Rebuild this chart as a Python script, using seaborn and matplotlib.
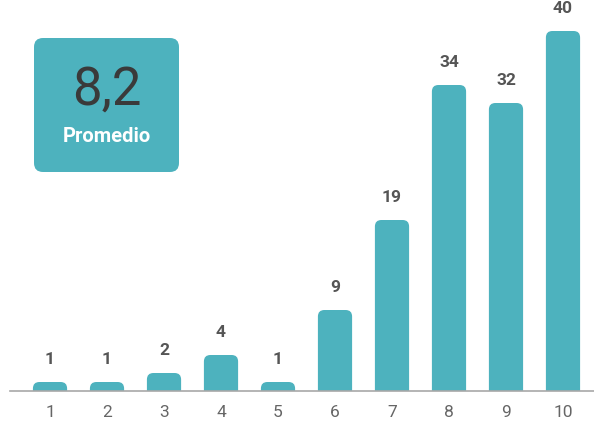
import matplotlib
matplotlib.use("Agg")
import matplotlib.pyplot as plt
from matplotlib.patches import FancyBboxPatch
import pandas as pd
import seaborn as sns

# Score distribution
scores = ["1", "2", "3", "4", "5", "6", "7", "8", "9", "10"]
counts = [1, 1, 2, 4, 1, 9, 19, 34, 32, 40]
average_label = "8,2"
average_caption = "Promedio"

TEAL = "#4db2be"
LABEL_GRAY = "#555555"
TICK_GRAY = "#666666"

sns.set_theme(style="white")
plt.rcParams["font.family"] = ["Roboto", "DejaVu Sans"]

df = pd.DataFrame({"score": scores, "count": counts})

fig = plt.figure(figsize=(5.94, 4.24), dpi=100)
ax = fig.add_axes([10 / 594, 33 / 424, 584 / 594, 391 / 424])

sns.barplot(data=df, x="score", y="count", color=TEAL, width=0.6,
            saturation=1, ax=ax)

ax.set_xlim(-0.702, 9.544)
ax.set_ylim(0, 391 / 9)

# Replace the square bars with rounded-top versions
px_per_x = 57.0
px_per_y = 9.0
radius_px = 6.5
rx = radius_px / px_per_x
ry = radius_px / px_per_y
for patch in list(ax.patches):
    x0, w, h = patch.get_x(), patch.get_width(), patch.get_height()
    patch.remove()
    rounded = FancyBboxPatch(
        (x0, -ry), w, h + ry,
        boxstyle=f"round,pad=0,rounding_size={rx}",
        mutation_aspect=ry / rx,
        facecolor=TEAL, edgecolor="none", clip_on=True,
    )
    ax.add_patch(rounded)

# Value labels above each bar
for i, v in enumerate(counts):
    ax.annotate(str(v), (i, v), xytext=(0, 11), textcoords="offset points",
                ha="center", va="bottom", fontsize=12.5, fontweight="bold",
                color=LABEL_GRAY, annotation_clip=False)

# Axis styling: only a thin baseline
for side in ["top", "right", "left"]:
    ax.spines[side].set_visible(False)
ax.spines["bottom"].set_color("#a8a8a8")
ax.spines["bottom"].set_linewidth(1.2)
ax.set_yticks([])
ax.set_xlabel("")
ax.set_ylabel("")
ax.tick_params(axis="x", length=0, pad=10, labelsize=12.5, labelcolor=TICK_GRAY)

# Average badge
bx0, bx1 = 34 / 594, 179 / 594
by0, by1 = 252 / 424, 386 / 424
r = 9 / 594
badge = FancyBboxPatch(
    (bx0, by0), bx1 - bx0, by1 - by0,
    boxstyle=f"round,pad=0,rounding_size={r}",
    mutation_aspect=594 / 424,
    transform=fig.transFigure, facecolor=TEAL, edgecolor="none",
)
fig.add_artist(badge)
cx = (bx0 + bx1) / 2
fig.text(cx, 1 - 90 / 424, average_label, ha="center", va="center",
         fontsize=38, fontweight="normal", color="#3a3a3a")
fig.text(cx, 1 - 137 / 424, average_caption, ha="center", va="center",
         fontsize=14.5, fontweight="bold", color="white")

fig.savefig("out.png", dpi=100, facecolor="white")
